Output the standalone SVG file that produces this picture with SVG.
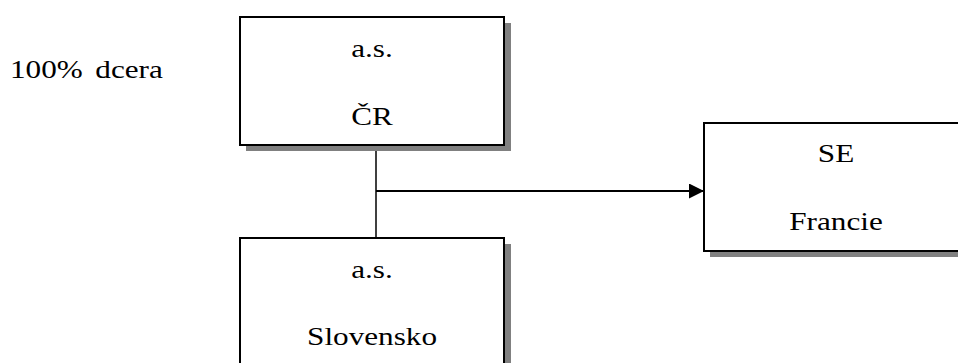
<svg xmlns="http://www.w3.org/2000/svg" width="958" height="363" viewBox="0 0 958 363">
<style>
.shadow{fill:#808080;stroke:none}
.box{fill:#fff;stroke:#000;stroke-width:2}
.t{font-family:'Liberation Serif','Times New Roman','DejaVu Serif',serif;font-size:26px;fill:#000;text-anchor:middle}
.c{stroke:#000;stroke-width:2;fill:none}
</style>
<defs>
<marker id="ah" markerWidth="15" markerHeight="15" refX="15" refY="7.5" orient="auto" markerUnits="userSpaceOnUse">
<path d="M0,0 L15,7.5 L0,15 Z" fill="#000"/>
</marker>
</defs>
<text class="t" transform="translate(10,78) scale(1.2,1)" style="text-anchor:start">100% <tspan dx="4">dcera</tspan></text>
<g id="connectors">
<line class="c" x1="376" y1="145" x2="376" y2="238" style="stroke-width:1.5"/>
<line class="c" x1="376" y1="191" x2="704" y2="191" marker-end="url(#ah)"/>
</g>
<g id="node-cr">
<rect class="shadow" x="246" y="23" width="265" height="128"/>
<rect class="box" x="240" y="17" width="264" height="128"/>
<text class="t" transform="translate(372,57) scale(1.2,1)">a.s.</text>
<text class="t" transform="translate(372,125) scale(1.2,1)">ČR</text>
</g>
<g id="node-se">
<rect class="shadow" x="710" y="129" width="262" height="128"/>
<rect class="box" x="704" y="123" width="262" height="128"/>
<text class="t" transform="translate(836,162) scale(1.2,1)">SE</text>
<text class="t" transform="translate(836,230) scale(1.2,1)">Francie</text>
</g>
<g id="node-sk">
<rect class="shadow" x="246" y="244" width="265" height="130"/>
<rect class="box" x="240" y="238" width="264" height="130"/>
<text class="t" transform="translate(372,278) scale(1.2,1)">a.s.</text>
<text class="t" transform="translate(372,345) scale(1.2,1)">Slovensko</text>
</g>
</svg>
